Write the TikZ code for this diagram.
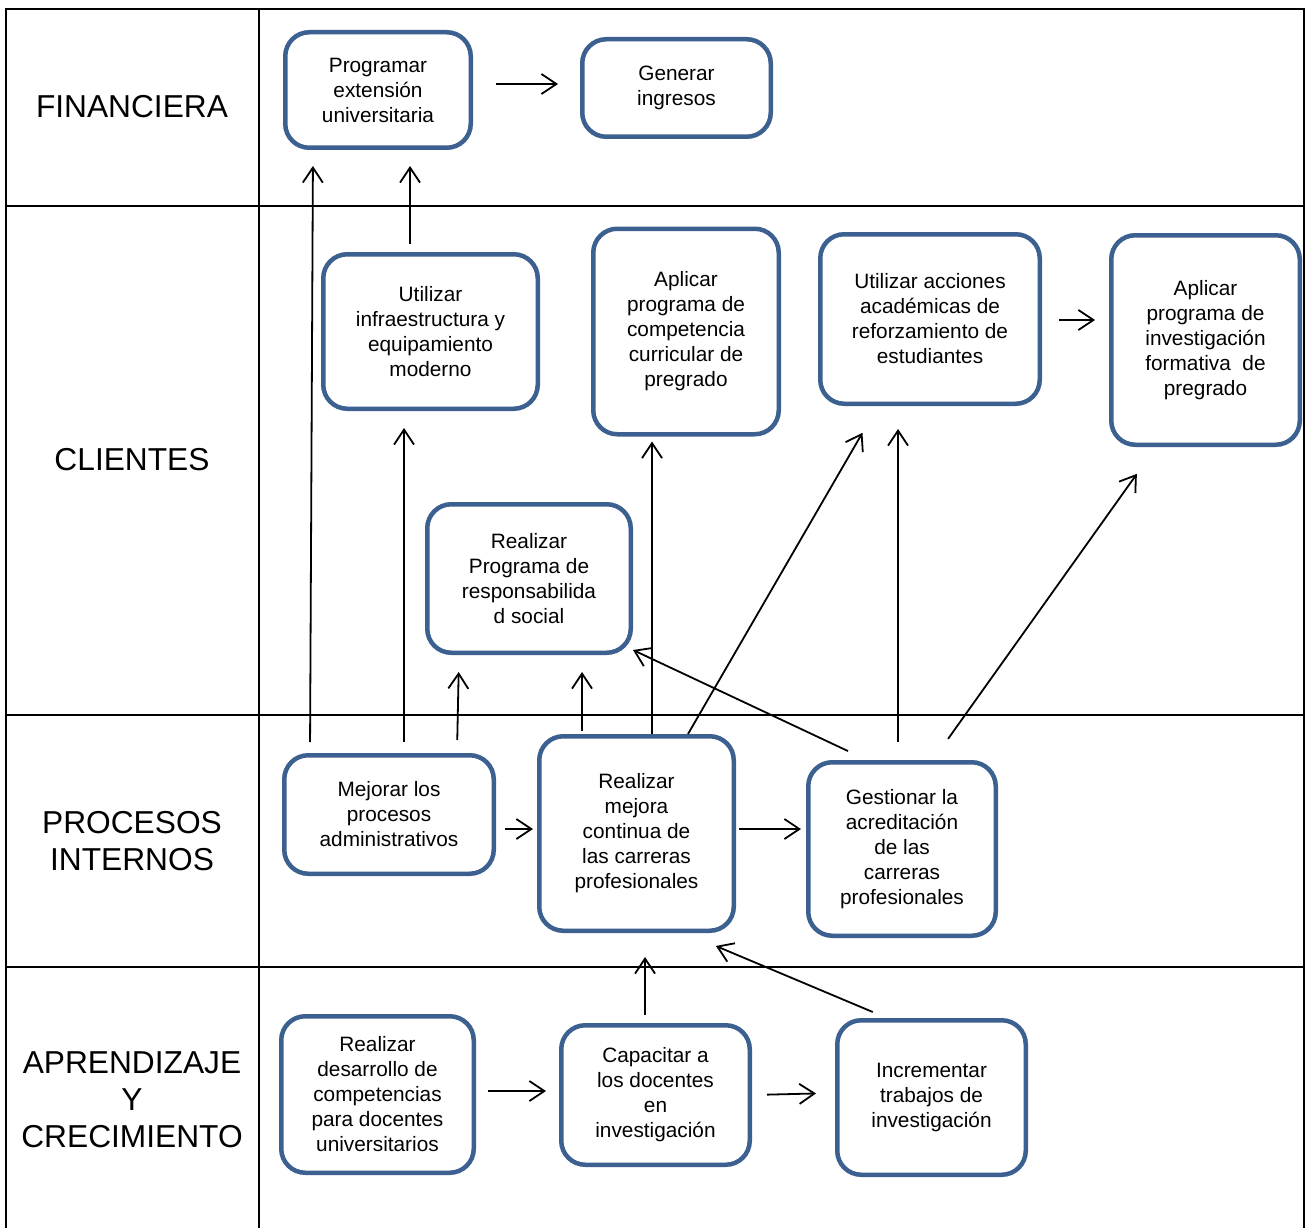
\documentclass[tikz,border=0pt]{standalone}
\usepackage{fontspec}
\setmainfont{Liberation Sans}
\usetikzlibrary{arrows.meta}
\definecolor{boxblue}{RGB}{60,96,144}
\begin{document}
\begin{tikzpicture}[x=1pt,y=-1pt,
  bx/.style={draw=boxblue, line width=4.5pt, rounded corners=24pt, align=center,
    inner sep=0pt, fill=white, font=\fontsize{20.8}{25}\selectfont},
  lbl/.style={align=center, font=\fontsize{31.7}{37}\selectfont},
  arr/.style={-{Straight Barb[length=15pt,width=20pt]}, line width=1.8pt},
  grid/.style={line width=2.5pt}]
\useasboundingbox (0,0) rectangle (1309,1228);
% table
\draw[grid] (6,1228) -- (6,9) -- (1304,9) -- (1304,1228);
\draw[grid] (259,9) -- (259,1228);
\draw[grid] (6,206) -- (1304,206);
\draw[grid] (6,715) -- (1304,715);
\draw[grid] (6,967) -- (1304,967);
% labels
\node[lbl] (lfin) at (132,107) {FINANCIERA};
\node[lbl] (lcli) at (132,460) {CLIENTES};
\node[lbl] (lpro) at (132,841) {PROCESOS\\INTERNOS};
\node[lbl] (lapr) at (132,1100) {APRENDIZAJE\\Y\\CRECIMIENTO};
% boxes
\node[bx, minimum width=185.5pt, minimum height=115.5pt] (prog) at (378,90) {Programar\\extensión\\universitaria};
\node[bx, minimum width=188.5pt, minimum height=97.5pt] (gen) at (676.5,88) {Generar\\ingresos};
\node[bx, minimum width=214.5pt, minimum height=154.5pt] (infra) at (430.5,331.5) {Utilizar\\infraestructura y\\equipamiento\\moderno};
\node[bx, minimum width=185.5pt, minimum height=205.5pt] (comp) at (686,331.5) {Aplicar\\programa de\\competencia\\curricular de\\pregrado};
\node[bx, minimum width=219.5pt, minimum height=169.5pt] (acc) at (930,319) {Utilizar acciones\\académicas de\\reforzamiento de\\estudiantes};
\node[bx, minimum width=188.5pt, minimum height=209.5pt] (inv) at (1205.5,340) {Aplicar\\programa de\\investigación\\formativa\ \ de\\pregrado};
\node[bx, minimum width=203.5pt, minimum height=148.5pt] (rs) at (529,578.5) {Realizar\\Programa de\\responsabilida\\d social};
\node[bx, minimum width=209.5pt, minimum height=118.5pt] (mej) at (389,814.5) {Mejorar los\\procesos\\administrativos};
\node[bx, minimum width=194.5pt, minimum height=194.5pt] (mc) at (636.5,833.5) {Realizar\\mejora\\continua de\\las carreras\\profesionales};
\node[bx, minimum width=187.5pt, minimum height=173.5pt] (ges) at (902,849) {Gestionar la\\acreditación\\de las\\carreras\\profesionales};
\node[bx, minimum width=192.5pt, minimum height=156.5pt] (des) at (377.5,1094.5) {Realizar\\desarrollo de\\competencias\\para docentes\\universitarios};
\node[bx, minimum width=188.5pt, minimum height=139.5pt] (cap) at (655.5,1095) {Capacitar a\\los docentes\\en\\investigación};
\node[bx, minimum width=188.5pt, minimum height=154.5pt] (inc) at (931.5,1097.5) {Incrementar\\trabajos de\\investigación};
% arrows
\draw[arr, shorten <=23pt, shorten >=22pt] (prog.east |- 0,84) -- (gen.west |- 0,84);
\draw[arr, shorten <=11pt, shorten >=16pt] (310,0 |- mej.north) -- (313,0 |- prog.south);
\draw[arr, shorten <=8pt, shorten >=16pt] (410,0 |- infra.north) -- (410,0 |- prog.south);
\draw[arr, shorten <=11pt, shorten >=17pt] (404,0 |- mej.north) -- (404,0 |- infra.south);
\draw[arr, shorten <=13pt, shorten >=17pt] (457,0 |- mej.north) -- (459,0 |- rs.south);
\draw[arr, shorten <=3pt, shorten >=17pt] (582,0 |- mc.north) -- (582,0 |- rs.south);
\draw[arr, shorten >=5pt] (652,0 |- mc.north) -- (652,0 |- comp.south);
\draw[arr, shorten >=31pt] (688,0 |- mc.north) -- (878,0 |- acc.south);
\draw[arr, shorten <=21pt] (867,0 |- ges.north) -- ([yshift=5pt]rs.south east);
\draw[arr, shorten <=18pt, shorten >=23pt] (898,0 |- ges.north) -- (898,0 |- acc.south);
\draw[arr, shorten <=26pt, shorten >=33pt] (933,0 |- ges.north) -- (1156,0 |- inv.south);
\draw[arr, shorten <=17pt, shorten >=14pt] (acc.east |- 0,320) -- (inv.west |- 0,320);
\draw[arr, shorten <=9pt, shorten >=4pt] (mej.east |- 0,829) -- (mc.west |- 0,829);
\draw[arr, shorten <=3pt, shorten >=5pt] (mc.east |- 0,829) -- (ges.west |- 0,829);
\draw[arr, shorten <=12pt, shorten >=13pt] (des.east |- 0,1091) -- (cap.west |- 0,1091);
\draw[arr, shorten <=15pt, shorten >=19pt] (cap.east |- 0,1095) -- (inc.west |- 0,1093);
\draw[arr, shorten <=8pt, shorten >=24pt] (645,0 |- cap.north) -- (645,0 |- mc.south);
\draw[arr, shorten <=15.5pt, shorten >=33.5pt] (887,0 |- inc.north) -- (685,0 |- mc.south);
\end{tikzpicture}
\end{document}
